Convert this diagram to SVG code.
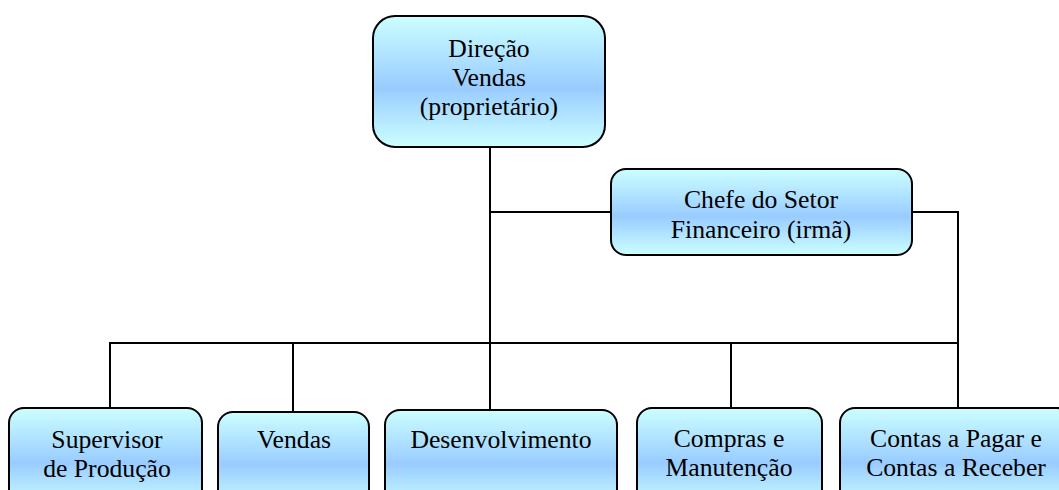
<svg xmlns="http://www.w3.org/2000/svg" width="1059" height="490" viewBox="0 0 1059 490">
<defs>
<linearGradient id="g" x1="0" y1="0" x2="0" y2="1">
<stop offset="0" stop-color="#ccffff"/>
<stop offset="0.55" stop-color="#99ccff"/>
<stop offset="1" stop-color="#ccffff"/>
</linearGradient>
<style>
.box{fill:url(#g);stroke:#000;stroke-width:2}
.t{font-family:"Liberation Serif","Times New Roman",serif;font-size:25.7px;fill:#000;text-anchor:middle}
.c{stroke:#000;stroke-width:2;fill:none}
</style>
</defs>
<rect width="1059" height="490" fill="#fff"/>
<g id="connectors">
<line class="c" x1="490" y1="147" x2="490" y2="410"/>
<line class="c" x1="490" y1="212" x2="611" y2="212"/>
<polyline class="c" points="912,212 958,212 958,408"/>
<line class="c" x1="109" y1="343" x2="958" y2="343"/>
<line class="c" x1="110" y1="343" x2="110" y2="408"/>
<line class="c" x1="293" y1="343" x2="293" y2="412"/>
<line class="c" x1="731" y1="343" x2="731" y2="408"/>
</g>
<g id="direcao">
<rect class="box" x="373" y="16" width="232" height="131" rx="22"/>
<text class="t" x="489" y="57">Direção</text>
<text class="t" x="489" y="86">Vendas</text>
<text class="t" x="489" y="115">(proprietário)</text>
</g>
<g id="chefe">
<rect class="box" x="611" y="169" width="301" height="86" rx="15"/>
<text class="t" x="761" y="208">Chefe do Setor</text>
<text class="t" x="761" y="238">Financeiro (irmã)</text>
</g>
<g id="supervisor">
<rect class="box" x="9" y="408" width="193" height="100" rx="15"/>
<text class="t" x="107" y="448">Supervisor</text>
<text class="t" x="107" y="477">de Produção</text>
</g>
<g id="vendas">
<rect class="box" x="218" y="412" width="151" height="96" rx="15"/>
<text class="t" x="294" y="448">Vendas</text>
</g>
<g id="desenvolvimento">
<rect class="box" x="385" y="410" width="232" height="98" rx="15"/>
<text class="t" x="501" y="448">Desenvolvimento</text>
</g>
<g id="compras">
<rect class="box" x="637" y="408" width="185" height="100" rx="15"/>
<text class="t" x="729" y="447">Compras e</text>
<text class="t" x="729" y="476">Manutenção</text>
</g>
<g id="contas">
<rect class="box" x="840" y="408" width="232" height="100" rx="15"/>
<text class="t" x="956" y="447">Contas a Pagar e</text>
<text class="t" x="956" y="476">Contas a Receber</text>
</g>
</svg>
